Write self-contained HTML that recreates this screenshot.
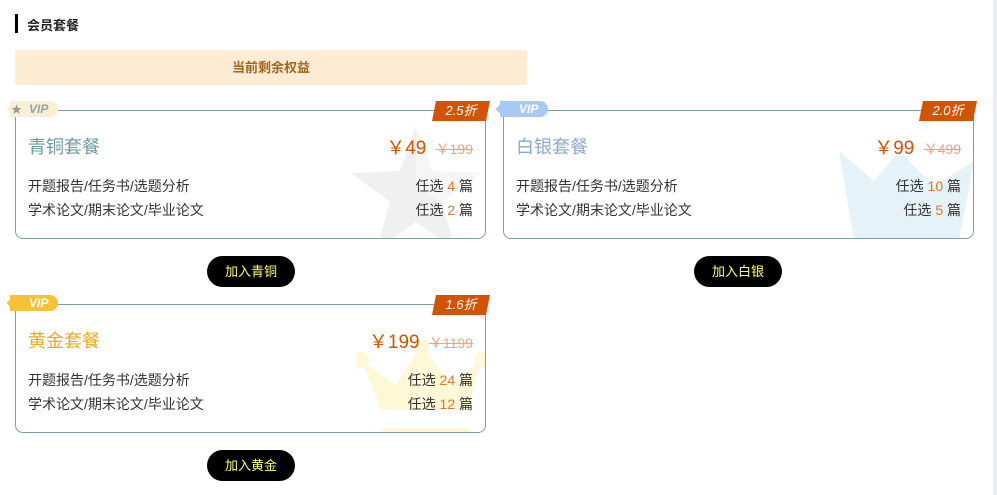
<!DOCTYPE html>
<html><head><meta charset="utf-8"><style>
*{margin:0;padding:0;box-sizing:border-box}
body{width:997px;height:495px;background:#fff;position:relative;overflow:hidden;font-family:"Liberation Sans","Noto Sans CJK SC",sans-serif;color:#333}
.a{position:absolute}
.card{position:absolute;width:471px;height:129px;border:1px solid #7c9ea3;border-radius:0 0 8px 8px;overflow:hidden}
.title{position:absolute;left:12px;top:22px;font-size:18px}
.price{position:absolute;right:12px;top:22px;font-size:19px;color:#d35400;white-space:nowrap}
.price s{font-size:14px;color:#eda27a;margin-left:4px}
.row{position:absolute;left:12px;right:12px;font-size:14px;color:#333;display:flex;justify-content:space-between}
.row b{font-weight:normal;color:#d9772e;font-size:14px}
.tag{position:absolute;width:58px;height:20px;background:#d35400;color:#fff;font-style:italic;font-size:13px;text-align:center;line-height:20px;clip-path:polygon(4px 0,100% 0,calc(100% - 4px) 100%,0 100%)}
.vip{position:absolute;height:16px;width:48px;border-radius:0 8px 8px 0;color:#fff;font-weight:bold;font-style:italic;font-size:12px;line-height:16px;padding-left:19px}
.btn{position:absolute;width:88px;height:31px;border-radius:16px;background:#000;color:#ffff66;font-size:13px;text-align:center;line-height:31px}
</style></head><body>
<div class="a" style="left:15px;top:14px;width:3px;height:19px;background:#000"></div>
<div class="a" style="left:27px;top:15px;font-size:13px;font-weight:bold;color:#222">会员套餐</div>
<div class="a" style="left:15px;top:50px;width:512px;height:35px;background:#fdebd3;border-radius:3px;text-align:center;line-height:35px;font-size:13px;font-weight:bold;color:#a0651f">当前剩余权益</div>
<div class="a" style="left:993px;top:0;width:4px;height:495px;background:#eceef2"></div>

<div class="card" style="left:15px;top:110px">
<svg class="a" style="left:330px;top:15px" width="140" height="120" viewBox="0 0 140 120"><polygon points="70,0 86,45 135,47 96,76 110,125 70,96 30,125 44,76 5,47 54,45" fill="#f0f0f0"/><polygon points="70,0 86,45 135,47 96,76 70,60" fill="#f6f6f6"/></svg>
<div class="title" style="color:#6f9aa0">青铜套餐</div>
<div class="price">￥49 <s>￥199</s></div>
<div class="row" style="top:65px"><span>开题报告/任务书/选题分析</span><span>任选 <b>4</b> 篇</span></div>
<div class="row" style="top:89px"><span>学术论文/期末论文/毕业论文</span><span>任选 <b>2</b> 篇</span></div>
</div>
<div class="vip" style="left:10px;top:101px;background:#fbeed6;color:#8aa5a8">VIP</div>
<div class="a" style="left:7px;top:101px;width:16px;height:16px;background:#fbeed6;transform:rotate(45deg) scale(.75);"></div>
<div class="a" style="left:11px;top:101px;font-size:11px;color:#999">★</div>
<div class="tag" style="left:432px;top:101px">2.5折</div>
<div class="btn" style="left:207px;top:256px">加入青铜</div>

<div class="card" style="left:503px;top:110px">
<svg class="a" style="left:335px;top:40px" width="135" height="90" viewBox="0 0 135 90"><polygon points="0,0 35,30 60,0 95,35 135,10 120,90 15,90" fill="#e5f3f8"/></svg>
<div class="title" style="color:#8aaad0">白银套餐</div>
<div class="price">￥99 <s>￥499</s></div>
<div class="row" style="top:65px"><span>开题报告/任务书/选题分析</span><span>任选 <b>10</b> 篇</span></div>
<div class="row" style="top:89px"><span>学术论文/期末论文/毕业论文</span><span>任选 <b>5</b> 篇</span></div>
</div>
<div class="vip" style="left:500px;top:101px;background:#a9c8f2">VIP</div>
<div class="a" style="left:496px;top:101px;width:16px;height:16px;background:#a9c8f2;transform:rotate(45deg) scale(.75)"></div>
<div class="tag" style="left:919px;top:101px">2.0折</div>
<div class="btn" style="left:694px;top:256px">加入白银</div>

<div class="card" style="left:15px;top:304px">
<svg class="a" style="left:340px;top:35px" width="131" height="95" viewBox="0 0 131 95"><polygon points="5,20 40,45 65,5 95,45 125,20 112,70 25,70" fill="#fff8d6"/><circle cx="65" cy="5" r="8" fill="#fff8d6"/><circle cx="5" cy="20" r="8" fill="#fff8d6"/><circle cx="126" cy="20" r="8" fill="#fff8d6"/><rect x="25" y="88" width="90" height="10" rx="4" fill="#fff8d6"/></svg>
<div class="title" style="color:#e9a825">黄金套餐</div>
<div class="price">￥199 <s>￥1199</s></div>
<div class="row" style="top:65px"><span>开题报告/任务书/选题分析</span><span>任选 <b>24</b> 篇</span></div>
<div class="row" style="top:89px"><span>学术论文/期末论文/毕业论文</span><span>任选 <b>12</b> 篇</span></div>
</div>
<div class="vip" style="left:10px;top:295px;background:#f7c136">VIP</div>
<div class="a" style="left:7px;top:295px;width:16px;height:16px;background:#f7c136;transform:rotate(45deg) scale(.75)"></div>
<div class="tag" style="left:432px;top:295px">1.6折</div>
<div class="btn" style="left:207px;top:450px">加入黄金</div>
</body></html>
